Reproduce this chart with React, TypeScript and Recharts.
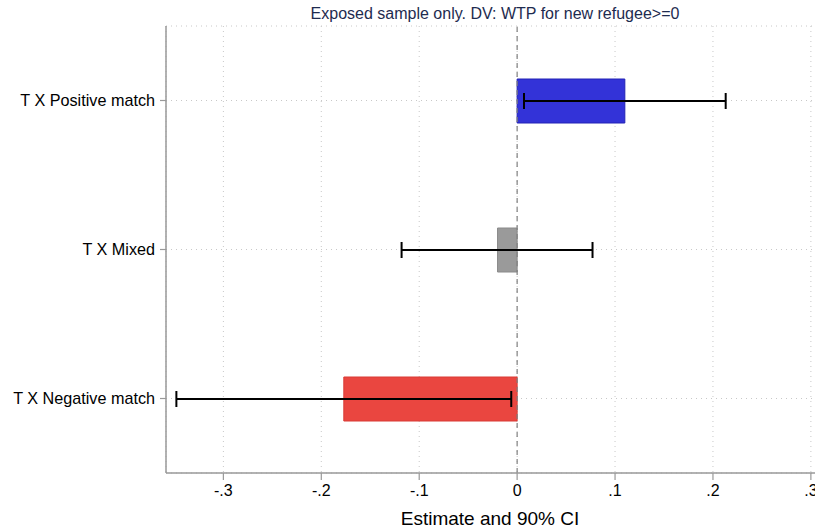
import React from 'react';
import { BarChart, Bar, XAxis, YAxis, CartesianGrid, ReferenceLine, ErrorBar, Cell } from 'recharts';

const categories = ['T X Positive match', 'T X Mixed', 'T X Negative match'];
const estimates = [0.11, -0.02, -0.177];
const ciLow = [0.007, -0.118, -0.348];
const ciHigh = [0.213, 0.077, -0.006];
const xTicks = [-0.3, -0.2, -0.1, 0, 0.1, 0.2, 0.3];
const xTickLabels = ['-.3', '-.2', '-.1', '0', '.1', '.2', '.3'];
const barColors = ['#3333d8', '#9a9a9a', '#ea4640'];
const barStrokes = ['#2323b5', '#8a8a8a', '#d93b35'];
const titleText = 'Exposed sample only. DV: WTP for new refugee>=0';
const xAxisTitle = 'Estimate and 90% CI';

const data = categories.map((name, i) => ({
  name,
  est: estimates[i],
  err: [estimates[i] - ciLow[i], ciHigh[i] - estimates[i]],
}));

const FONT = '"Liberation Sans", Arial, Helvetica, sans-serif';

export default function App() {
  return (
    <div style={{ position: 'absolute', left: 0, top: 0, width: 815, height: 530, overflow: 'hidden', background: '#fff', fontFamily: FONT }}>
      <BarChart
        width={830}
        height={530}
        data={data}
        layout="vertical"
        margin={{ top: 26, right: 6, bottom: 0, left: 0 }}
        barSize={44}
      >
        <CartesianGrid stroke="#c8c8c8" strokeDasharray="1 4" />
        <XAxis
          type="number"
          domain={[-0.3586, 0.3134]}
          allowDataOverflow
          ticks={xTicks}
          tickFormatter={(v: number) => xTickLabels[xTicks.findIndex((t) => Math.abs(t - v) < 1e-9)]}
          height={57}
          tick={{ fill: '#000', fontSize: 16, fontFamily: FONT }}
          tickLine={{ stroke: '#999', strokeWidth: 1.2 }}
          axisLine={{ stroke: '#999', strokeWidth: 1.5 }}
          tickSize={7}
          tickMargin={5}
        />
        <YAxis
          type="category"
          dataKey="name"
          width={166}
          tick={{ fill: '#000', fontSize: 16.2, fontFamily: FONT }}
          tickLine={{ stroke: '#999', strokeWidth: 1.2 }}
          axisLine={{ stroke: '#999', strokeWidth: 1.5 }}
          tickSize={6}
          tickMargin={5}
        />
        <ReferenceLine x={0} stroke="#808080" strokeDasharray="5 4" strokeWidth={1.2} />
        <Bar dataKey="est" isAnimationActive={false}>
          {data.map((d, i) => (
            <Cell key={d.name} fill={barColors[i]} stroke={barStrokes[i]} strokeWidth={1} />
          ))}
          <ErrorBar dataKey="err" direction="x" stroke="#000" strokeWidth={2} width={8} />
        </Bar>
      </BarChart>
      <div style={{ position: 'absolute', left: 166, width: 658, top: 4, textAlign: 'center', fontSize: 16, lineHeight: '19px', color: '#1e2b4f' }}>
        {titleText}
      </div>
      <div style={{ position: 'absolute', left: 290, width: 400, top: 507, textAlign: 'center', fontSize: 19, lineHeight: '23px', color: '#000' }}>
        {xAxisTitle}
      </div>
    </div>
  );
}
